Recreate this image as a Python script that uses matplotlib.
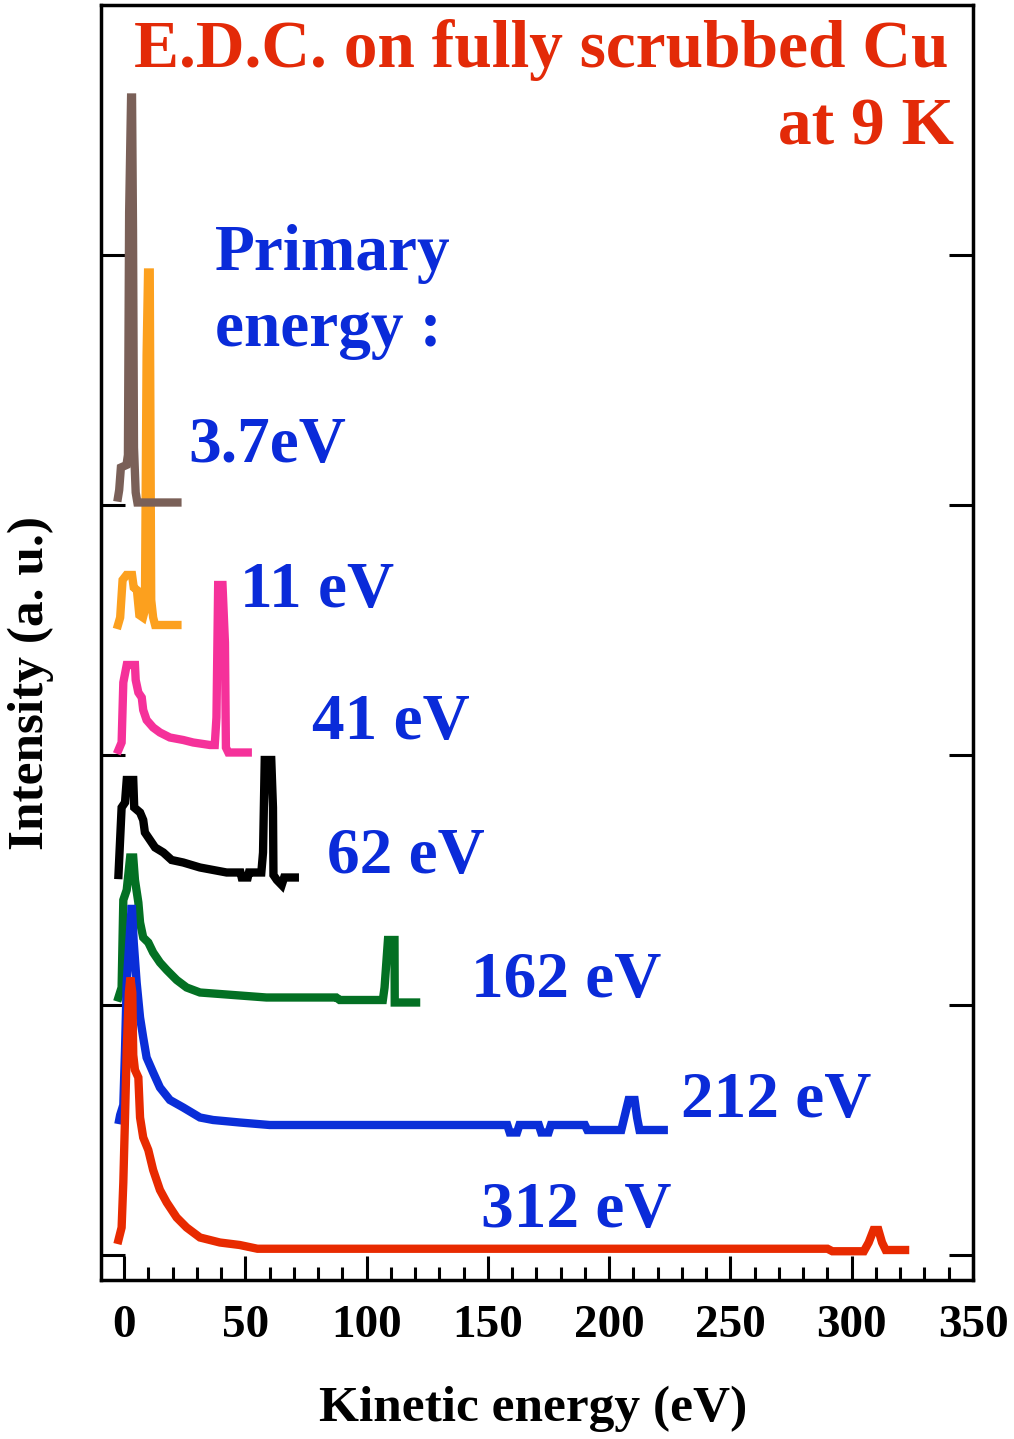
import matplotlib
matplotlib.use('Agg')
import matplotlib.pyplot as plt
from matplotlib.ticker import MultipleLocator

plt.rcParams['font.family'] = ['Liberation Serif', 'DejaVu Serif']
plt.rcParams['font.weight'] = 'bold'

# ---------------- data ----------------
# 3.7 eV (brown)
x_37 = [-2.5, -2.0, -1.3, 1.0, 1.6, 2.1, 2.9, 3.3, 3.7, 4.1, 4.8, 5.5, 22.0]
y_37 = [3.03, 3.06, 3.15, 3.16, 3.20, 4.17, 4.63, 4.63, 4.10, 3.23, 3.05, 3.01, 3.01]

# 11 eV (orange)
x_11 = [-2.5, -1.6, -0.6, 1.0, 3.3, 4.0, 5.3, 6.3, 7.8, 8.6, 9.3, 9.9, 10.6, 11.2, 12.0, 12.8, 22.0]
y_11 = [2.52, 2.55, 2.70, 2.72, 2.72, 2.67, 2.66, 2.56, 2.55, 2.58, 3.60, 3.93, 3.93, 2.62, 2.55, 2.52, 2.52]

# 41 eV (pink)
x_41 = [-2.3, -1.0, -0.3, 1.1, 4.5, 4.8, 5.9, 7.3, 7.9, 9.3, 12.0, 14.8, 18.9, 24.4, 28.5,
        35.4, 37.4, 38.1, 38.8, 40.6, 41.6, 42.0, 43.0, 51.0]
y_41 = [2.02, 2.05, 2.29, 2.36, 2.36, 2.30, 2.25, 2.23, 2.18, 2.14, 2.11, 2.09, 2.07, 2.06, 2.05,
        2.04, 2.04, 2.15, 2.68, 2.68, 2.45, 2.03, 2.01, 2.01]

# 62 eV (black)
x_62 = [-2.3, -1.0, 0.4, 1.1, 3.8, 4.2, 6.6, 7.9, 8.6, 10.7, 12.8, 16.2, 19.6, 24.4, 31.3,
        42.3, 48.0, 48.5, 51.0, 51.5, 56.6, 57.3, 58.0, 60.7, 61.4, 61.6, 63.0, 65.0, 66.0, 70.4]
y_62 = [1.52, 1.79, 1.81, 1.90, 1.90, 1.79, 1.77, 1.74, 1.69, 1.66, 1.63, 1.61, 1.58, 1.57, 1.55,
        1.53, 1.53, 1.51, 1.51, 1.53, 1.53, 1.61, 1.98, 1.98, 1.79, 1.52, 1.50, 1.48, 1.51, 1.51]

# 162 eV (green)
x_162 = [-2.3, -1.0, -0.3, 1.1, 2.5, 3.8, 4.5, 5.9, 6.6, 7.9, 10.0, 12.0, 14.8, 17.6, 21.7,
         25.8, 31.3, 45.0, 58.7, 87.5, 88.9, 106.7, 107.4, 108.8, 111.5, 111.6, 120.4]
y_162 = [1.03, 1.07, 1.42, 1.46, 1.59, 1.59, 1.50, 1.41, 1.33, 1.27, 1.25, 1.21, 1.17, 1.14, 1.10,
         1.07, 1.05, 1.04, 1.03, 1.03, 1.02, 1.02, 1.07, 1.26, 1.26, 1.01, 1.01]

# 212 eV (blue)
x_212 = [-2.0, -1.6, -0.3, 0.4, 1.1, 2.5, 3.2, 4.0, 5.2, 6.6, 7.9, 9.3, 12.0, 14.8, 18.9,
         24.4, 31.3, 36.7, 47.7, 60.0, 158.0, 159.0, 162.0, 163.0, 171.0, 172.0, 175.0, 176.0,
         190.0, 191.0, 205.0, 206.5, 208.0, 210.5, 211.5, 212.5, 222.5]
y_212 = [0.54, 0.56, 0.60, 0.82, 1.09, 1.30, 1.40, 1.25, 1.09, 0.95, 0.87, 0.79, 0.73, 0.67, 0.62,
         0.59, 0.55, 0.54, 0.53, 0.52, 0.52, 0.49, 0.49, 0.52, 0.52, 0.49, 0.49, 0.52,
         0.52, 0.50, 0.50, 0.56, 0.62, 0.62, 0.55, 0.50, 0.50]

# 312 eV (red)
x_312 = [-2.3, -1.0, -0.3, 0.4, 1.1, 2.0, 2.6, 3.4, 3.8, 4.5, 5.9, 6.6, 7.9, 10.0, 12.0, 14.8,
         17.6, 21.7, 25.8, 31.3, 39.5, 47.7, 55.0, 290.0, 292.0, 305.0, 307.0, 309.0, 311.0,
         312.5, 314.0, 322.0]
y_312 = [0.06, 0.11, 0.29, 0.55, 0.82, 1.05, 1.11, 1.05, 0.80, 0.74, 0.71, 0.55, 0.47, 0.42, 0.34, 0.26,
         0.21, 0.15, 0.11, 0.07, 0.05, 0.04, 0.025, 0.025, 0.015, 0.015, 0.05, 0.10, 0.10,
         0.05, 0.02, 0.02]

series_labels = ['3.7eV', '11 eV', '41 eV', '62 eV', '162 eV', '212 eV', '312 eV']
xticks_major = [0, 50, 100, 150, 200, 250, 300, 350]
yticks = [0, 1, 2, 3, 4]

# ---------------- styling ----------------
c_brown = '#7a6058'
c_orange = '#fca01e'
c_pink = '#f5319a'
c_black = '#000000'
c_green = '#037023'
c_blue = '#0a2ed8'
c_red = '#e82a00'
c_text_blue = '#0a2bd9'
c_title = '#e32a08'

fig = plt.figure(figsize=(10.14, 14.39), dpi=100)
ax = fig.add_axes([101 / 1014, 159 / 1439, 872 / 1014, 1275 / 1439])

lw = 6
ax.plot(x_11, y_11, color=c_orange, lw=lw, solid_joinstyle='miter')
ax.plot(x_37, y_37, color=c_brown, lw=lw, solid_joinstyle='miter')
ax.plot(x_41, y_41, color=c_pink, lw=lw, solid_joinstyle='miter')
ax.plot(x_62, y_62, color=c_black, lw=lw, solid_joinstyle='miter')
ax.plot(x_162, y_162, color=c_green, lw=lw, solid_joinstyle='miter')
ax.plot(x_212, y_212, color=c_blue, lw=lw, solid_joinstyle='miter')
ax.plot(x_312, y_312, color=c_red, lw=lw, solid_joinstyle='miter')

ax.set_xlim(-9.5, 350)
ax.set_ylim(-0.1, 5.0)

ax.set_xticks(xticks_major)
ax.xaxis.set_minor_locator(MultipleLocator(10))
ax.set_yticks(yticks)
ax.tick_params(axis='x', which='major', direction='in', length=17, width=2.2,
               labelsize=34, pad=18, top=False, bottom=True)
ax.tick_params(axis='x', which='minor', direction='in', length=9.5, width=2.2,
               top=False, bottom=True)
ax.tick_params(axis='y', which='major', direction='in', length=17, width=2.2,
               left=True, right=True, labelleft=False)
for s in ax.spines.values():
    s.set_linewidth(2.5)

ax.set_xlabel('Kinetic energy (eV)', fontsize=37, fontweight='bold', va='top')
ax.xaxis.set_label_coords(0.495, -0.083)
ax.set_ylabel('Intensity (a. u.)', fontsize=37, fontweight='bold')
ax.yaxis.set_label_coords(-0.054, 0.468)

# annotations
fs = 47
ax.text(340, 4.75, 'E.D.C. on fully scrubbed Cu', color=c_title, fontsize=48.5,
        ha='right', va='baseline')
ax.text(342, 4.44, 'at 9 K', color=c_title, fontsize=48.5, ha='right', va='baseline')
ax.text(37.4, 3.94, 'Primary', color=c_text_blue, fontsize=fs, ha='left', va='baseline')
ax.text(37.4, 3.636, 'energy :', color=c_text_blue, fontsize=fs, ha='left', va='baseline')

label_pos = [(26.3, 3.172), (48.0, 2.592), (77.4, 2.064), (83.5, 1.53),
             (143.2, 1.03), (229.6, 0.55), (147.0, 0.11)]
for lab, (lx, ly) in zip(series_labels, label_pos):
    ax.text(lx, ly, lab, color=c_text_blue, fontsize=fs, ha='left', va='baseline')

fig.savefig('out.png', dpi=100)
